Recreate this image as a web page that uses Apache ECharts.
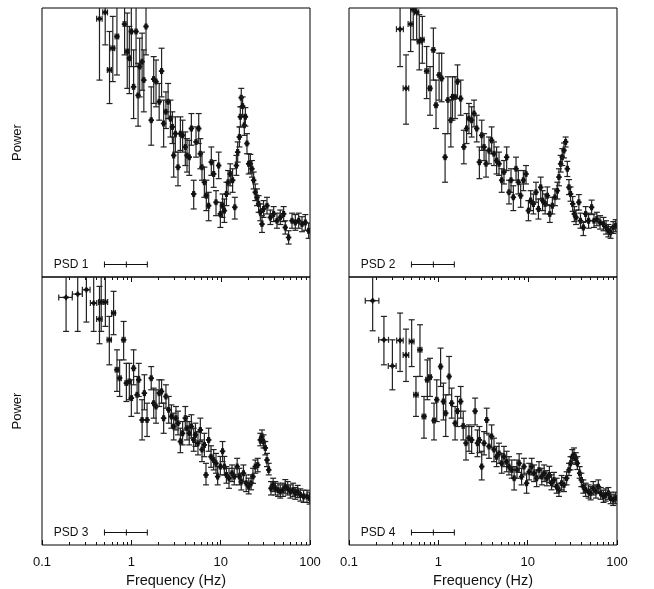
<!DOCTYPE html>
<html><head><meta charset="utf-8">
<script src="https://cdn.jsdelivr.net/npm/echarts@6/dist/echarts.min.js"></script>
<style>html,body{margin:0;padding:0;background:#fff}#c{width:654px;height:589px}</style>
</head><body><div id="c"></div><script>
// rows: [frequency Hz, half bin width Hz, power, power low, power high]
const psd1 = [
[0.44,0.031,75.8,15.7,130],[0.51,0.031,89.4,38.8,140],[0.57,0.031,20.4,8.6,54.7],[0.62,0.031,35.6,15.1,80.6],
[0.69,0.031,48.1,17.9,105],[0.84,0.031,66.1,30.0,105],[0.90,0.031,32.7,12.7,87.9],[0.95,0.031,27.5,11.1,62.3],
[1.00,0.031,54.7,22.2,105],[1.06,0.031,13.2,5.85,34.1],[1.13,0.031,54.7,22.2,105],[1.19,0.031,10.6,4.81,24.2],
[1.24,0.031,22.2,10.2,46.1],[1.32,0.033,25.2,12.1,52.4],[1.38,0.035,15.7,6.95,34.1],[1.46,0.036,62.3,30.0,105],
[1.67,0.042,5.61,2.95,13.2],[1.78,0.045,16.1,8.62,28.7],[1.89,0.047,15.1,7.91,26.3],[2.05,0.051,9.0,5.61,14.4],
[2.18,0.055,19.8,10.2,35.6],[2.30,0.058,5.15,2.82,9.39],[2.44,0.061,6.95,4.53,11.6],[2.58,0.065,9.0,5.85,14.4],
[2.74,0.069,5.85,3.64,9.39],[2.88,0.072,4.72,3.08,6.95],[2.98,0.075,2.27,1.30,3.64],[3.11,0.078,3.97,2.47,6.11],
[3.33,0.083,1.68,1.04,2.47],[3.54,0.089,3.97,2.58,6.11],[3.75,0.094,3.80,2.47,5.61],[4.02,0.10,2.82,1.75,4.15],
[4.20,0.11,2.27,1.48,3.49],[4.45,0.11,2.17,1.36,3.34],[4.70,0.12,4.53,2.95,6.65],[4.99,0.12,0.843,0.574,1.20],
[5.30,0.13,3.21,2.17,4.72],[5.68,0.14,4.53,3.08,6.65],[5.92,0.15,2.37,1.61,3.49],[6.18,0.15,1.68,1.20,2.47],
[6.57,0.16,1.14,0.774,1.68],[6.91,0.17,0.808,0.55,1.20],[7.34,0.18,0.625,0.424,0.88],[7.86,0.20,1.91,1.36,2.82],
[8.35,0.21,1.41,1.0,1.99],[8.87,0.22,0.681,0.483,0.918],[9.50,0.24,1.75,1.25,2.47],[9.92,0.25,0.505,0.357,0.681],
[10.5,0.26,0.625,0.462,0.843],[11.0,0.28,0.55,0.406,0.741],[11.6,0.29,0.843,0.625,1.14],[12.1,0.30,1.14,0.843,1.54],
[12.8,0.32,1.41,1.04,1.83],[13.6,0.34,1.20,0.88,1.61],[14.4,0.36,0.599,0.443,0.774],[15.0,0.38,1.75,1.36,2.27],
[15.5,0.39,2.47,1.91,3.21],[16.2,0.41,3.64,2.82,4.72],[16.6,0.42,6.11,4.72,7.91],[17.0,0.43,10.0,7.91,12.7],
[17.6,0.44,8.05,6.37,10.2],[18.4,0.46,4.93,3.80,6.37],[18.9,0.47,6.11,4.81,7.75],[19.7,0.49,3.08,2.37,3.97],
[20.6,0.52,1.83,1.41,2.37],[21.5,0.54,1.83,1.44,2.33],[22.4,0.56,1.61,1.30,1.99],[23.4,0.59,1.20,0.96,1.48],
[24.4,0.61,0.88,0.711,1.09],[25.5,0.64,0.774,0.625,0.96],[26.6,0.67,0.653,0.527,0.808],[27.8,0.70,0.527,0.424,0.653],
[29.0,0.73,0.389,0.314,0.483],[30.2,0.76,0.574,0.462,0.711],[33.0,0.83,0.625,0.505,0.774],[36.0,0.90,0.462,0.385,0.558],
[39.2,0.98,0.505,0.415,0.61],[42.7,1.07,0.424,0.35,0.515],[46.5,1.16,0.462,0.385,0.558],[50.7,1.27,0.505,0.415,0.61],
[52.9,1.32,0.357,0.301,0.424],[57.6,1.44,0.276,0.233,0.328],[62.9,1.57,0.424,0.35,0.515],[68.5,1.71,0.406,0.332,0.497],
[74.7,1.87,0.424,0.35,0.515],[81.4,2.04,0.389,0.32,0.47],[88.7,2.22,0.406,0.332,0.497],[96.6,2.42,0.328,0.27,0.40]
];
const psd2 = [
[0.373,0.033,58.1,22.2,105],[0.435,0.031,12.7,5.06,30.0],[0.49,0.031,66.1,32.7,120],[0.524,0.031,95.8,44.2,150],
[0.572,0.031,89.4,44.2,150],[0.612,0.031,42.3,20.4,84.2],[0.662,0.031,44.2,24.2,80.6],[0.74,0.031,19.8,9.77,37.2],
[0.807,0.031,12.7,6.37,22.2],[0.88,0.031,34.1,15.7,59.7],[0.942,0.031,8.25,4.53,15.7],[1.02,0.031,17.9,9.39,31.3],
[1.09,0.031,16.4,9.0,31.3],[1.19,0.031,2.17,1.14,3.97],[1.28,0.032,9.39,3.97,17.1],[1.38,0.035,5.61,2.82,9.39],
[1.44,0.036,10.2,5.61,17.1],[1.54,0.039,10.2,5.85,17.1],[1.64,0.041,15.1,9.77,23.2],[1.78,0.045,9.77,6.37,15.7],
[1.93,0.048,2.82,1.83,4.33],[2.07,0.052,4.53,3.08,6.65],[2.20,0.055,5.85,3.97,8.62],[2.36,0.059,5.61,3.64,7.91],
[2.51,0.063,6.65,4.72,9.39],[2.69,0.067,4.53,3.21,6.37],[2.88,0.072,1.91,1.25,2.82],[3.06,0.077,3.80,2.58,5.61],
[3.25,0.081,2.82,1.99,3.97],[3.42,0.086,1.83,1.30,2.58],[3.69,0.092,2.58,1.83,3.64],[3.95,0.099,3.34,2.37,4.72],
[4.20,0.11,2.37,1.75,3.21],[4.49,0.11,1.99,1.41,2.82],[4.78,0.12,1.83,1.36,2.47],[5.12,0.13,1.20,0.88,1.61],
[5.43,0.14,1.48,1.09,1.99],[5.82,0.15,2.17,1.54,2.82],[6.18,0.15,0.88,0.653,1.20],[6.51,0.16,1.20,0.88,1.61],
[6.91,0.17,0.774,0.55,1.04],[7.41,0.19,1.61,1.20,2.17],[7.86,0.20,1.14,0.843,1.54],[8.35,0.21,0.808,0.599,1.09],
[8.95,0.22,1.20,0.918,1.54],[9.58,0.24,1.41,1.09,1.75],[10.2,0.26,0.55,0.424,0.711],[10.8,0.27,0.711,0.55,0.918],
[11.6,0.29,0.653,0.505,0.843],[12.4,0.31,0.88,0.681,1.14],[13.2,0.33,0.574,0.443,0.741],[14.0,0.35,1.0,0.741,1.30],
[14.7,0.37,0.711,0.55,0.918],[15.7,0.39,0.653,0.505,0.843],[16.6,0.42,0.808,0.64,1.01],[17.7,0.44,0.505,0.406,0.625],
[18.9,0.47,0.625,0.505,0.774],[20.2,0.51,0.774,0.625,0.96],[21.5,0.54,0.918,0.741,1.14],[22.4,0.56,1.30,1.04,1.61],
[23.4,0.59,1.83,1.48,2.27],[24.4,0.61,2.17,1.75,2.70],[25.5,0.64,2.58,2.13,3.12],[26.6,0.67,3.21,2.82,3.64],
[27.8,0.70,1.61,1.32,1.95],[29.0,0.73,1.0,0.83,1.22],[30.2,0.76,0.843,0.70,1.01],[31.9,0.80,0.653,0.54,0.79],
[33.3,0.83,0.505,0.415,0.61],[34.8,0.87,0.462,0.385,0.558],[37.4,0.94,0.681,0.558,0.83],[39.0,0.98,0.424,0.35,0.515],
[42.0,1.05,0.357,0.29,0.406],[44.6,1.12,0.505,0.415,0.61],[48.1,1.20,0.424,0.35,0.515],[52.0,1.30,0.599,0.497,0.72],
[55.3,1.38,0.424,0.357,0.505],[59.5,1.49,0.443,0.373,0.527],[64.6,1.62,0.406,0.342,0.483],[70.6,1.77,0.389,0.328,0.462],
[75.5,1.89,0.357,0.301,0.424],[80.1,2.0,0.328,0.28,0.385],[84.8,2.12,0.314,0.27,0.364],[90.7,2.27,0.357,0.306,0.415],
[96.6,2.42,0.373,0.32,0.436]
];
const psd3 = [
[0.186,0.032,59.1,24.6,120],[0.251,0.032,64.4,24.6,120],[0.314,0.031,72.1,31.3,130],[0.379,0.031,51.0,24.6,130],
[0.44,0.031,33.8,17.9,78.5],[0.46,0.031,52.4,24.6,130],[0.512,0.031,52.4,28.0,105],[0.567,0.031,19.8,10.4,36.2],
[0.633,0.031,39.5,22.6,69.1],[0.691,0.031,9.15,5.24,15.3],[0.74,0.031,7.37,4.60,11.8],[0.82,0.031,19.8,11.8,31.8],
[0.88,0.031,6.49,4.04,10.8],[0.95,0.031,6.77,4.23,10.8],[1.0,0.031,4.41,2.75,7.06],[1.06,0.031,9.51,6.21,15.3],
[1.16,0.031,4.80,2.99,7.70],[1.21,0.031,7.06,4.60,10.8],[1.32,0.033,2.51,1.50,4.23],[1.40,0.035,5.01,3.26,8.05],
[1.50,0.038,2.51,1.64,3.87],[1.67,0.042,7.37,5.46,9.94],[1.78,0.045,3.87,2.63,5.70],[1.89,0.047,3.55,2.31,5.46],
[2.05,0.051,5.01,3.55,7.06],[2.18,0.055,5.24,3.87,7.06],[2.30,0.058,2.63,1.78,3.87],[2.44,0.061,4.60,3.40,6.21],
[2.62,0.066,3.26,2.31,4.60],[2.81,0.070,2.75,2.03,3.70],[2.98,0.075,2.12,1.50,2.99],[3.16,0.079,2.63,1.94,3.55],
[3.33,0.083,2.31,1.71,3.15],[3.54,0.089,1.44,1.08,2.03],[3.75,0.094,1.78,1.32,2.41],[4.02,0.10,2.63,1.94,3.55],
[4.20,0.11,2.03,1.50,2.75],[4.45,0.11,1.78,1.32,2.41],[4.70,0.12,2.12,1.57,2.87],[4.99,0.12,1.50,1.12,2.03],
[5.22,0.13,1.71,1.27,2.31],[5.57,0.14,1.38,1.02,1.86],[5.92,0.15,1.94,1.44,2.63],[6.18,0.15,1.17,0.857,1.50],
[6.57,0.16,1.32,0.974,1.78],[6.85,0.17,0.609,0.471,0.821],[7.34,0.18,1.50,1.12,2.03],[7.80,0.20,0.974,0.741,1.29],
[8.35,0.21,0.894,0.693,1.17],[8.87,0.22,0.821,0.636,1.06],[9.25,0.23,0.583,0.471,0.754],[9.92,0.25,0.754,0.609,0.98],
[10.5,0.26,1.12,0.857,1.44],[11.0,0.28,0.754,0.609,0.98],[11.6,0.29,0.609,0.492,0.754],[12.4,0.31,0.559,0.431,0.722],
[13.4,0.34,0.636,0.513,0.787],[14.2,0.36,0.583,0.471,0.722],[15.3,0.38,0.754,0.609,0.934],[16.2,0.41,0.583,0.471,0.722],
[17.0,0.43,0.513,0.413,0.636],[18.0,0.45,0.636,0.513,0.787],[19.3,0.48,0.492,0.396,0.609],[20.6,0.52,0.45,0.373,0.559],
[21.9,0.55,0.492,0.415,0.61],[23.0,0.58,0.583,0.49,0.722],[24.4,0.61,0.754,0.636,0.894],[26.0,0.65,0.787,0.66,0.934],
[27.8,0.70,1.50,1.29,1.78],[29.0,0.73,1.64,1.38,1.94],[30.2,0.76,1.44,1.22,1.71],[31.6,0.79,1.22,1.02,1.44],
[33.0,0.83,0.894,0.754,1.06],[34.5,0.86,0.693,0.609,0.821],[36.6,0.92,0.431,0.363,0.513],[38.7,0.97,0.471,0.396,0.559],
[40.9,1.02,0.431,0.363,0.513],[43.8,1.10,0.413,0.35,0.492],[46.5,1.16,0.396,0.335,0.471],[49.8,1.25,0.413,0.35,0.492],
[52.9,1.32,0.45,0.38,0.54],[56.3,1.41,0.431,0.363,0.513],[60.3,1.51,0.396,0.335,0.471],[64.6,1.62,0.413,0.35,0.492],
[68.5,1.71,0.38,0.325,0.44],[72.8,1.82,0.396,0.34,0.465],[78.0,1.95,0.363,0.31,0.425],[84.8,2.12,0.35,0.30,0.41],
[92.6,2.32,0.35,0.30,0.41],[99.0,2.48,0.335,0.287,0.39]
];
const psd4 = [
[0.184,0.032,54.3,25.0,120],[0.246,0.031,19.8,10.4,36.2],[0.306,0.031,10.1,5.46,19.8],[0.373,0.031,19.5,8.76,39.5],
[0.435,0.031,13.4,6.77,26.1],[0.503,0.031,19.0,9.94,33.2],[0.562,0.031,4.80,2.75,7.70],[0.623,0.031,15.3,7.70,29.2],
[0.691,0.031,2.75,1.57,4.60],[0.753,0.031,7.06,4.23,11.8],[0.807,0.031,7.57,4.60,12.3],[0.895,0.031,2.47,1.50,3.87],
[0.96,0.031,4.23,2.41,7.06],[1.06,0.031,9.94,5.95,16.0],[1.14,0.031,4.04,2.51,6.49],[1.21,0.031,2.99,1.64,4.80],
[1.32,0.033,7.70,4.80,12.9],[1.41,0.035,3.87,2.63,5.70],[1.54,0.039,2.31,1.50,3.55],[1.64,0.041,3.15,2.12,4.60],
[1.78,0.045,4.04,2.63,5.95],[1.90,0.048,2.15,1.50,3.15],[2.04,0.051,1.38,0.894,2.12],[2.20,0.055,1.57,1.12,2.21],
[2.36,0.059,1.50,1.06,2.12],[2.58,0.065,3.15,2.21,4.41],[2.74,0.069,1.38,0.974,1.94],[2.88,0.072,1.50,1.08,2.12],
[3.06,0.077,0.754,0.535,1.12],[3.25,0.081,1.38,1.02,1.86],[3.48,0.087,2.51,1.78,3.40],[3.69,0.092,1.27,0.934,1.71],
[3.95,0.099,1.64,1.22,2.21],[4.20,0.11,1.17,0.857,1.57],[4.49,0.11,0.974,0.754,1.27],[4.78,0.12,1.06,0.821,1.38],
[5.12,0.13,0.821,0.636,1.06],[5.43,0.14,0.974,0.754,1.27],[5.82,0.15,0.857,0.66,1.12],[6.18,0.15,0.754,0.609,0.974],
[6.64,0.17,0.693,0.559,0.894],[7.06,0.18,0.559,0.413,0.754],[7.60,0.19,0.693,0.559,0.894],[8.03,0.20,0.821,0.65,1.05],
[8.55,0.21,0.583,0.471,0.722],[9.10,0.23,0.754,0.609,0.934],[9.73,0.24,0.492,0.38,0.636],[10.4,0.26,0.66,0.535,0.821],
[11.1,0.28,0.754,0.609,0.934],[11.8,0.30,0.636,0.513,0.787],[12.6,0.32,0.559,0.45,0.693],[13.4,0.34,0.693,0.559,0.857],
[14.4,0.36,0.583,0.471,0.722],[15.3,0.38,0.636,0.513,0.787],[16.4,0.41,0.559,0.46,0.68],[17.5,0.44,0.609,0.50,0.76],
[18.5,0.46,0.492,0.415,0.61],[19.7,0.49,0.535,0.45,0.65],[21.1,0.53,0.45,0.38,0.559],[22.4,0.56,0.413,0.35,0.492],
[24.0,0.60,0.492,0.413,0.60],[25.5,0.64,0.471,0.396,0.57],[27.3,0.68,0.559,0.471,0.66],[29.0,0.73,0.693,0.60,0.821],
[30.2,0.76,0.821,0.693,0.974],[31.6,0.79,0.974,0.83,1.17],[33.0,0.83,1.02,0.88,1.22],[34.5,0.86,0.934,0.80,1.08],
[36.0,0.90,0.821,0.70,0.974],[38.2,0.96,0.636,0.559,0.754],[39.9,1.0,0.535,0.45,0.636],[42.0,1.05,0.45,0.38,0.535],
[44.6,1.12,0.413,0.35,0.492],[48.1,1.20,0.396,0.335,0.471],[50.7,1.27,0.38,0.32,0.45],[54.2,1.36,0.431,0.363,0.513],
[58.1,1.45,0.396,0.335,0.471],[61.8,1.55,0.45,0.38,0.535],[65.7,1.64,0.38,0.325,0.44],[70.6,1.77,0.35,0.30,0.41],
[74.7,1.87,0.363,0.31,0.425],[80.1,2.0,0.38,0.325,0.44],[84.8,2.12,0.335,0.29,0.39],[90.7,2.27,0.32,0.277,0.37],
[96.6,2.42,0.335,0.29,0.39]
];
const panelNames = ['PSD 1', 'PSD 2', 'PSD 3', 'PSD 4'];
// legend bar: [low freq, centre freq, high freq, power level]
const legendBar = [0.5, 0.88, 1.51, 0.14];
const xTickValues = [0.1, 1, 10, 100];
const minorTickValues = [0.2,0.3,0.4,0.5,0.6,0.7,0.8,0.9,2,3,4,5,6,7,8,9,20,30,40,50,60,70,80,90];
const majorTickValues = [1, 10];
const xTitle = 'Frequency (Hz)';
const yTitle = 'Power';

const panels = [psd1, psd2, psd3, psd4];
const FONT = 'Liberation Sans, Arial, Helvetica, sans-serif';
const INK = '#111';
const BAR = '#222';
const gridBoxes = [
  {left: 42, top: 8, width: 268, height: 269},
  {left: 349, top: 8, width: 268, height: 269},
  {left: 42, top: 277, width: 268, height: 268},
  {left: 349, top: 277, width: 268, height: 268}
];

function ln(x1, y1, x2, y2, w, col) {
  return {type: 'line', shape: {x1, y1, x2, y2}, style: {stroke: col || INK, lineWidth: w || 1}};
}

function renderErr(params, api) {
  const f = api.value(0), df = api.value(1), p = api.value(2), lo = api.value(3), hi = api.value(4);
  const c = api.coord([f, p]);
  const xl = api.coord([f - df, p])[0], xr = api.coord([f + df, p])[0];
  const yl = api.coord([f, lo])[1], yh = api.coord([f, hi])[1];
  const cap = 3;
  return {type: 'group', children: [
    ln(c[0], yl, c[0], yh, 1.2, BAR),
    ln(c[0] - cap, yl, c[0] + cap, yl, 1.2, BAR),
    ln(c[0] - cap, yh, c[0] + cap, yh, 1.2, BAR),
    ln(xl, c[1], xr, c[1], 1.2, BAR),
    ln(xl, c[1] - cap, xl, c[1] + cap, 1.2, BAR),
    ln(xr, c[1] - cap, xr, c[1] + cap, 1.2, BAR),
    {type: 'rect', shape: {x: c[0] - 2.75, y: c[1] - 0.9, width: 5.5, height: 1.8}, style: {fill: INK}},
    {type: 'rect', shape: {x: c[0] - 0.9, y: c[1] - 2.75, width: 1.8, height: 5.5}, style: {fill: INK}},
    {type: 'rect', shape: {x: c[0] - 1.6, y: c[1] - 1.6, width: 3.2, height: 3.2}, style: {fill: INK}}
  ]};
}

function legendRender(name) {
  return function (params, api) {
    const a = api.coord([api.value(0), api.value(3)]);
    const m = api.coord([api.value(1), api.value(3)]);
    const b = api.coord([api.value(2), api.value(3)]);
    const y = Math.round(a[1]) + 0.5;
    return {type: 'group', children: [
      ln(a[0], y, b[0], y),
      ln(a[0], y - 3, a[0], y + 3),
      ln(b[0], y - 3, b[0], y + 3),
      ln(m[0], y - 3, m[0], y + 3),
      {type: 'text', style: {text: name, x: a[0] - 16, y: y, align: 'right', verticalAlign: 'middle',
        font: '12px ' + FONT, fill: INK}}
    ]};
  };
}

function tickRender(len, bottomToo) {
  return function (params, api) {
    const x = Math.round(api.coord([api.value(0), 1])[0]) + 0.5;
    const cs = params.coordSys;
    const ch = [ln(x, cs.y, x, cs.y + len)];
    if (bottomToo) ch.push(ln(x, cs.y + cs.height, x, cs.y + cs.height - len));
    return {type: 'group', children: ch};
  };
}

const grid = gridBoxes.map(g => Object.assign({show: true, borderColor: '#000', borderWidth: 1,
  backgroundColor: 'transparent', containLabel: false, outerBoundsMode: 'none'}, g));

const xAxis = gridBoxes.map((g, i) => {
  const bottom = i >= 2;
  return {
    type: 'log', logBase: 10, gridIndex: i, min: xTickValues[0], max: xTickValues[xTickValues.length - 1],
    axisLine: {show: false},
    axisTick: {show: bottom, inside: true, length: 5, lineStyle: {color: INK}},
    axisLabel: {show: bottom, margin: 11, fontSize: 13, fontFamily: FONT, color: INK,
      showMinLabel: true, showMaxLabel: true, formatter: v => String(+(+v).toPrecision(6))},
    splitLine: {show: false},
    name: bottom ? xTitle : '', nameLocation: 'middle', nameGap: 28,
    nameTextStyle: {fontSize: 14.5, fontFamily: FONT, color: INK}
  };
});
const yAxis = gridBoxes.map((g, i) => ({
  type: 'log', logBase: 10, gridIndex: i, min: 0.1, max: 100,
  axisLine: {show: false}, axisTick: {show: false}, axisLabel: {show: false}, splitLine: {show: false},
  name: (i % 2 === 0) ? yTitle : '', nameLocation: 'middle', nameRotate: 90, nameGap: 18,
  nameTextStyle: {fontSize: 13, fontFamily: FONT, color: INK}
}));

const series = [];
panels.forEach((data, i) => {
  series.push({type: 'custom', xAxisIndex: i, yAxisIndex: i, clip: true, silent: true,
    encode: {x: 0, y: 2}, data: data, renderItem: renderErr, animation: false});
  series.push({type: 'custom', xAxisIndex: i, yAxisIndex: i, silent: true,
    encode: {x: 1, y: 3}, data: [legendBar], renderItem: legendRender(panelNames[i]), animation: false});
  if (i >= 2) {
    series.push({type: 'custom', xAxisIndex: i, yAxisIndex: i, silent: true, encode: {x: 0, y: 1},
      data: minorTickValues.map(v => [v, 1]), renderItem: tickRender(3, true), animation: false});
    series.push({type: 'custom', xAxisIndex: i, yAxisIndex: i, silent: true, encode: {x: 0, y: 1},
      data: majorTickValues.map(v => [v, 1]), renderItem: tickRender(5, false), animation: false});
  }
});

const chart = echarts.init(document.getElementById('c'), null, {renderer: 'canvas'});
chart.setOption({animation: false, backgroundColor: '#fff', grid, xAxis, yAxis, series});
</script></body></html>
